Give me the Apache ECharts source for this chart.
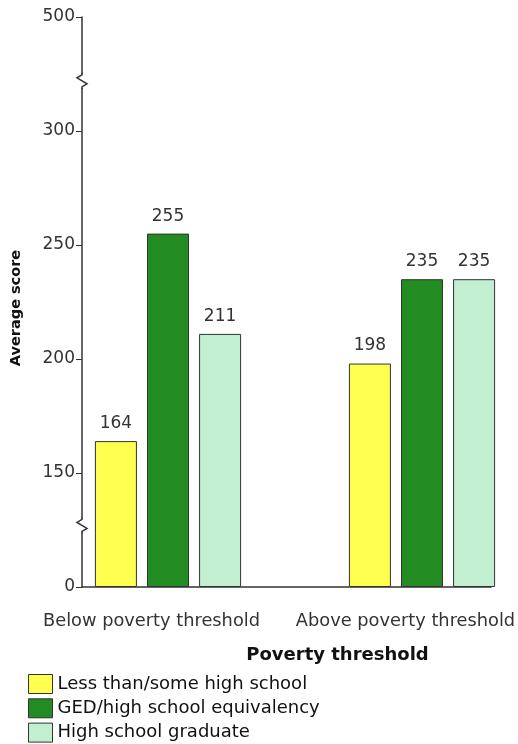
<!DOCTYPE html>
<html>
<head>
<meta charset="utf-8">
<script src="https://cdn.jsdelivr.net/npm/echarts@6/dist/echarts.min.js"></script>
<style>
  html, body { margin: 0; padding: 0; background: #fff; }
  #chart { width: 518px; height: 744px; }
</style>
</head>
<body>
<div id="chart"></div>
<script>
// Average scores by education level, split by poverty threshold
const categories = ['Below poverty threshold', 'Above poverty threshold'];
const seriesNames = ['Less than/some high school', 'GED/high school equivalency', 'High school graduate'];
const lessThanHS = [164, 198];
const gedEquiv = [255, 235];
const hsGraduate = [211, 235];
const tickValues = [0, 150, 200, 250, 300, 500];
const colors = ['#FFFF4F', '#228B22', '#C1EFCF'];

// Broken scale: 0-150 and 300-500 are compressed, 150-300 is linear.
function toAxis(v) {
  if (v <= 150) return v / 3;
  if (v <= 300) return v - 100;
  return 200 + (v - 300) / 4;
}
function fromAxis(d) {
  if (d <= 50) return d * 3;
  if (d <= 200) return d + 100;
  return 300 + (d - 200) * 4;
}

const FONT = 'DejaVu Sans';
const chart = echarts.init(document.getElementById('chart'), null, { renderer: 'canvas' });

function makeSeries(name, values, color) {
  return {
    name: name,
    type: 'bar',
    xAxisIndex: 0,
    yAxisIndex: 0,
    barWidth: 42,
    barGap: '24%',
    data: values.map(v => ({ value: toAxis(v), raw: v })),
    itemStyle: { color: color, borderColor: '#333', borderWidth: 1 },
    label: {
      show: true,
      position: 'top',
      distance: 9,
      color: '#333',
      fontFamily: FONT,
      fontSize: 17,
      formatter: p => String(p.data.raw)
    }
  };
}

const option = {
  animation: false,
  backgroundColor: '#fff',
  grid: [
    { left: 41, width: 508, top: 17, bottom: 157, outerBoundsMode: 'none', containLabel: false },
    { left: 82, right: 27, top: 17, bottom: 157, outerBoundsMode: 'none', containLabel: false }
  ],
  xAxis: [
    {
      type: 'category', gridIndex: 0, data: categories,
      axisLine: { show: false }, axisTick: { show: false },
      axisLabel: {
        color: '#333', fontFamily: FONT, fontSize: 17.8, margin: 25,
        interval: 0, hideOverlap: false,
        padding: [0, 33, 0, 0]
      }
    },
    {
      type: 'category', gridIndex: 1, data: categories,
      axisLine: { show: true, lineStyle: { color: '#333', width: 1.5 } },
      axisTick: { show: false }, axisLabel: { show: false },
      name: 'Poverty threshold', nameLocation: 'middle', nameGap: 59,
      nameTextStyle: {
        color: '#111', fontFamily: FONT, fontSize: 18, fontWeight: 'bold',
        padding: [0, 0, 0, 102]
      }
    }
  ],
  yAxis: [
    {
      type: 'value', gridIndex: 0, min: 0, max: 250, interval: 50,
      show: false, splitLine: { show: false }
    },
    {
      type: 'value', gridIndex: 1, min: 0, max: 250, interval: 50,
      axisLine: { show: true, lineStyle: { color: '#333', width: 1.5 } },
      axisTick: { show: true, length: 6, lineStyle: { color: '#333' } },
      splitLine: { show: false },
      axisLabel: {
        color: '#333', fontFamily: FONT, fontSize: 17, margin: 7,
        formatter: d => String(fromAxis(d))
      },
      name: 'Average score', nameLocation: 'middle', nameGap: 58,
      nameTextStyle: {
        color: '#111', fontFamily: FONT, fontSize: 14.5, fontWeight: 'bold',
        padding: [0, 12, 0, 0]
      }
    }
  ],
  legend: {
    orient: 'vertical', left: 28, top: 674, padding: 0,
    itemWidth: 24, itemHeight: 19, itemGap: 4.3,
    icon: 'rect',
    itemStyle: { borderColor: '#333', borderWidth: 1 },
    textStyle: { color: '#111', fontFamily: FONT, fontSize: 18 },
    data: seriesNames
  },
  series: [
    makeSeries(seriesNames[0], lessThanHS, colors[0]),
    makeSeries(seriesNames[1], gedEquiv, colors[1]),
    makeSeries(seriesNames[2], hsGraduate, colors[2])
  ]
};
chart.setOption(option);

// Zigzag break marks on the value axis where the scale is compressed
function breakMark(axisValue) {
  const gx = chart.getModel().getComponent('grid', 1).coordinateSystem.getRect().x;
  const y = chart.convertToPixel({ yAxisIndex: 1 }, axisValue);
  return [
    { type: 'rect', shape: { x: gx - 8, y: y - 7, width: 16, height: 14 },
      style: { fill: '#fff' }, z: 100 },
    { type: 'polyline',
      shape: { points: [[gx, y - 8], [gx, y - 6], [gx - 5, y - 3], [gx + 5, y + 3], [gx, y + 6], [gx, y + 8]] },
      style: { stroke: '#333', lineWidth: 1.5, fill: null }, z: 101 }
  ];
}
chart.setOption({ graphic: [].concat(breakMark(27), breakMark(222)) });
</script>
</body>
</html>
